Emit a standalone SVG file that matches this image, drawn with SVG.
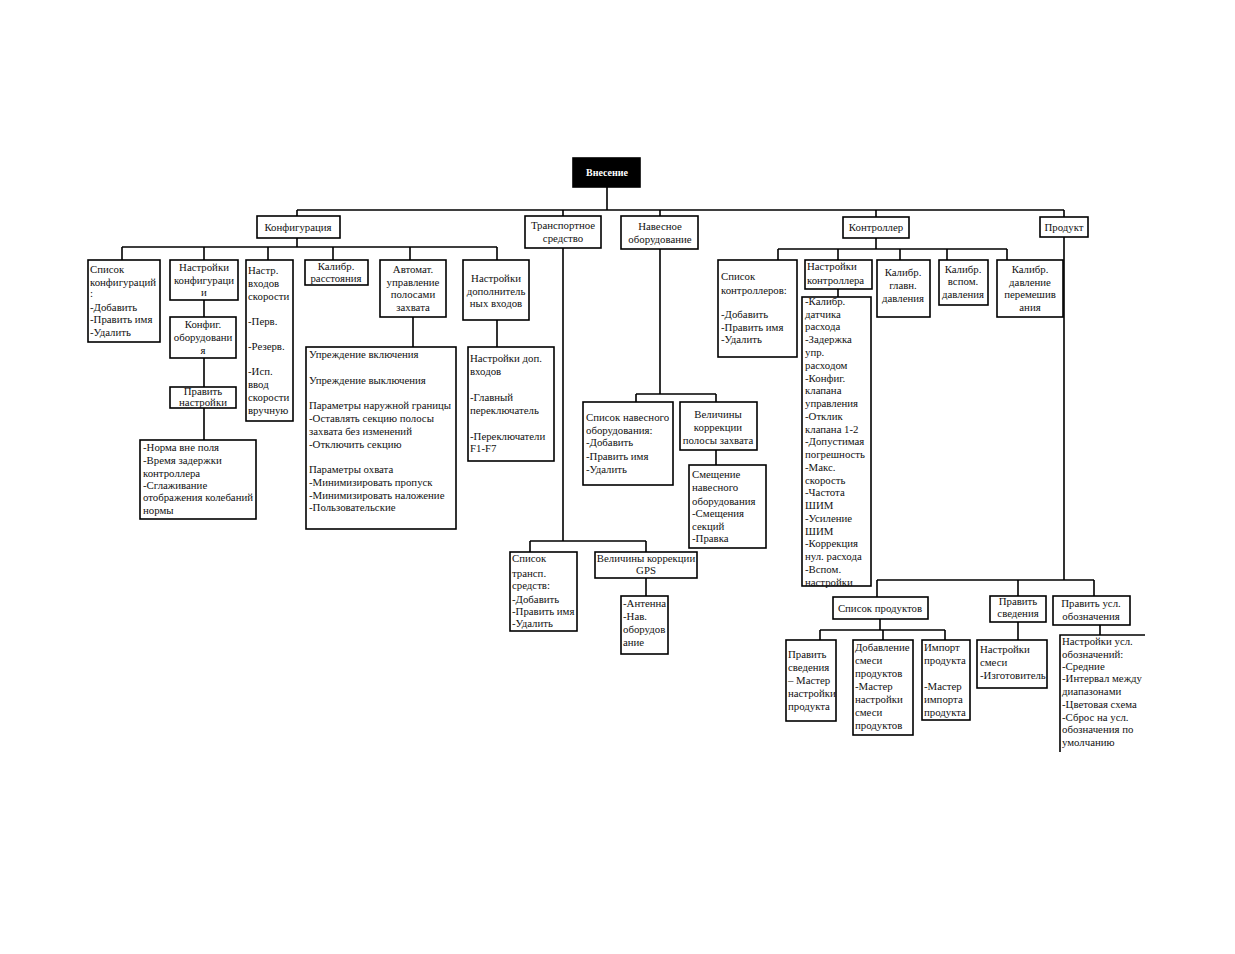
<svg xmlns="http://www.w3.org/2000/svg" width="1235" height="954" viewBox="0 0 1235 954">
<style>
.b{fill:#fff;stroke:#000;stroke-width:1.6}
.ln{fill:none;stroke:#000;stroke-width:1.6}
text{font-family:"Liberation Serif","Times New Roman",serif;font-size:10.8px;fill:#111}
.c{text-anchor:middle}
.w{fill:#fff;font-weight:bold;font-size:10px}
</style>
<rect width="1235" height="954" fill="#fff"/>
<g id="connectors">
<path class="ln" d="M607,187V210M297,210H1064M297,210V216M563,210V216M660,210V216M876,210V217M1064,210V217"/>
<path class="ln" d="M297,238V247M122,247H497M122,247V260M204,247V260M268,247V260M333,247V260M410,247V260M497,247V260"/>
<path class="ln" d="M204,300V317M204,358V387M204,408V440M413,317V347M497,320V347"/>
<path class="ln" d="M563,248V541M530,541H646M530,541V552M646,541V552M646,578V596"/>
<path class="ln" d="M660,249V394M636,394H716M636,394V402M716,394V402M716,450V465"/>
<path class="ln" d="M876,238V249M778,249H1007M778,249V260M838,249V260M900,249V260M947,249V260M1007,249V260M838,289V297"/>
<path class="ln" d="M1064,237V580M877,580H1094M877,580V597M1018,580V596M1094,580V596"/>
<path class="ln" d="M880,619V630M820,630H945M820,630V640M883,630V640M945,630V640M1018,622V640M1100,625V635"/>
</g>
<g id="root"><rect x="573" y="158" width="67" height="29" fill="#000" stroke="#000" stroke-width="1.6"/><text class="c w" x="607" y="176">Внесение</text></g>
<g id="n-config"><rect class="b" x="257" y="216" width="83" height="22"/><text class="c" x="298" y="231">Конфигурация</text></g>
<g id="n-transport"><rect class="b" x="525" y="216" width="76" height="32"/><text class="c" x="563" y="229">Транспортное</text><text class="c" x="563" y="242">средство</text></g>
<g id="n-implement"><rect class="b" x="621" y="216" width="77" height="33"/><text class="c" x="660" y="230">Навесное</text><text class="c" x="660" y="243">оборудование</text></g>
<g id="n-controller"><rect class="b" x="843" y="217" width="66" height="21"/><text class="c" x="876" y="231">Контроллер</text></g>
<g id="n-product"><rect class="b" x="1040" y="217" width="48" height="20"/><text class="c" x="1064" y="231">Продукт</text></g>

<g id="n-cfg-list"><rect class="b" x="88" y="260" width="72" height="82"/><text x="90" y="273">Список</text><text x="90" y="286">конфигураций</text><text x="90" y="297">:</text><text x="90" y="311">-Добавить</text><text x="90" y="323">-Править имя</text><text x="90" y="336">-Удалить</text></g>
<g id="n-cfg-settings"><rect class="b" x="170" y="260" width="68" height="40"/><text class="c" x="204" y="271">Настройки</text><text class="c" x="204" y="284">конфигураци</text><text class="c" x="204" y="296">и</text></g>
<g id="n-cfg-equip"><rect class="b" x="170" y="317" width="66" height="41"/><text class="c" x="203" y="328">Конфиг.</text><text class="c" x="203" y="341">оборудовани</text><text class="c" x="203" y="354">я</text></g>
<g id="n-cfg-edit"><rect class="b" x="170" y="387" width="66" height="21"/><text class="c" x="203" y="395">Править</text><text class="c" x="203" y="406">настройки</text></g>
<g id="n-cfg-norm"><rect class="b" x="140" y="440" width="116" height="79"/><text x="143" y="451">-Норма вне поля</text><text x="143" y="464">-Время задержки</text><text x="143" y="477">контроллера</text><text x="143" y="489">-Сглаживание</text><text x="143" y="501">отображения колебаний</text><text x="143" y="514">нормы</text></g>
<g id="n-speed"><rect class="b" x="246" y="260" width="47" height="161"/><text x="248" y="274">Настр.</text><text x="248" y="287">входов</text><text x="248" y="300">скорости</text><text x="248" y="325">-Перв.</text><text x="248" y="350">-Резерв.</text><text x="248" y="375">-Исп.</text><text x="248" y="388">ввод</text><text x="248" y="401">скорости</text><text x="248" y="414">вручную</text></g>
<g id="n-dist"><rect class="b" x="305" y="260" width="63" height="25"/><text class="c" x="336" y="270">Калибр.</text><text class="c" x="336" y="282">расстояния</text></g>
<g id="n-auto"><rect class="b" x="380" y="260" width="66" height="57"/><text class="c" x="413" y="273">Автомат.</text><text class="c" x="413" y="286">управление</text><text class="c" x="413" y="298">полосами</text><text class="c" x="413" y="311">захвата</text></g>
<g id="n-auto-detail"><rect class="b" x="306" y="347" width="150" height="182"/><text x="309" y="358">Упреждение включения</text><text x="309" y="384">Упреждение выключения</text><text x="309" y="409">Параметры наружной границы</text><text x="309" y="422">-Оставлять секцию полосы</text><text x="309" y="435">захвата без изменений</text><text x="309" y="448">-Отключить секцию</text><text x="309" y="473">Параметры охвата</text><text x="309" y="486">-Минимизировать пропуск</text><text x="309" y="499">-Минимизировать наложение</text><text x="309" y="511">-Пользовательские</text></g>
<g id="n-aux"><rect class="b" x="463" y="260" width="66" height="60"/><text class="c" x="496" y="282">Настройки</text><text class="c" x="496" y="295">дополнитель</text><text class="c" x="496" y="307">ных входов</text></g>
<g id="n-aux-detail"><rect class="b" x="468" y="347" width="86" height="114"/><text x="470" y="362">Настройки  доп.</text><text x="470" y="375">входов</text><text x="470" y="401">-Главный</text><text x="470" y="414">переключатель</text><text x="470" y="440">-Переключатели</text><text x="470" y="452">F1-F7</text></g>

<g id="n-veh-list"><rect class="b" x="510" y="552" width="67" height="79"/><text x="512" y="562">Список</text><text x="512" y="577">трансп.</text><text x="512" y="589">средств:</text><text x="512" y="603">-Добавить</text><text x="512" y="615">-Править имя</text><text x="512" y="627">-Удалить</text></g>
<g id="n-gps"><rect class="b" x="595" y="552" width="102" height="26"/><text class="c" x="646" y="562">Величины коррекции</text><text class="c" x="646" y="574">GPS</text></g>
<g id="n-gps-detail"><rect class="b" x="621" y="596" width="47" height="58"/><text x="623" y="607">-Антенна</text><text x="623" y="620">-Нав.</text><text x="623" y="633">оборудов</text><text x="623" y="646">ание</text></g>

<g id="n-imp-list"><rect class="b" x="583" y="402" width="90" height="83"/><text x="586" y="421">Список навесного</text><text x="586" y="434">оборудования:</text><text x="586" y="446">-Добавить</text><text x="586" y="460">-Править имя</text><text x="586" y="473">-Удалить</text></g>
<g id="n-imp-corr"><rect class="b" x="680" y="402" width="77" height="48"/><text class="c" x="718" y="418">Величины</text><text class="c" x="718" y="431">коррекции</text><text class="c" x="718" y="444">полосы захвата</text></g>
<g id="n-imp-offset"><rect class="b" x="689" y="465" width="77" height="83"/><text x="692" y="478">Смещение</text><text x="692" y="491">навесного</text><text x="692" y="505">оборудования</text><text x="692" y="517">-Смещения</text><text x="692" y="530">секций</text><text x="692" y="542">-Правка</text></g>

<g id="n-ctl-list"><rect class="b" x="718" y="260" width="79" height="97"/><text x="721" y="280">Список</text><text x="721" y="294">контроллеров:</text><text x="721" y="318">-Добавить</text><text x="721" y="331">-Править имя</text><text x="721" y="343">-Удалить</text></g>
<g id="n-ctl-settings"><rect class="b" x="805" y="260" width="67" height="29"/><text x="807" y="270">Настройки</text><text x="807" y="284">контроллера</text></g>
<g id="n-ctl-detail"><rect class="b" x="802" y="297" width="69" height="289"/>
<text x="805" y="305">-Калибр.</text><text x="805" y="318">датчика</text><text x="805" y="330">расхода</text><text x="805" y="343">-Задержка</text><text x="805" y="356">упр.</text><text x="805" y="369">расходом</text><text x="805" y="382">-Конфиг.</text><text x="805" y="394">клапана</text><text x="805" y="407">управления</text><text x="805" y="420">-Отклик</text><text x="805" y="433">клапана 1-2</text><text x="805" y="445">-Допустимая</text><text x="805" y="458">погрешность</text><text x="805" y="471">-Макс.</text><text x="805" y="484">скорость</text><text x="805" y="496">-Частота</text><text x="805" y="509">ШИМ</text><text x="805" y="522">-Усиление</text><text x="805" y="535">ШИМ</text><text x="805" y="547">-Коррекция</text><text x="805" y="560">нул. расхода</text><text x="805" y="573">-Вспом.</text><text x="805" y="586">настройки</text></g>
<g id="n-main-press"><rect class="b" x="877" y="260" width="53" height="57"/><text class="c" x="903" y="276">Калибр.</text><text class="c" x="903" y="289">главн.</text><text class="c" x="903" y="302">давления</text></g>
<g id="n-aux-press"><rect class="b" x="939" y="260" width="49" height="45"/><text class="c" x="963" y="273">Калибр.</text><text class="c" x="963" y="285">вспом.</text><text class="c" x="963" y="298">давления</text></g>
<g id="n-mix-press"><rect class="b" x="997" y="260" width="66" height="57"/><text class="c" x="1030" y="273">Калибр.</text><text class="c" x="1030" y="286">давление</text><text class="c" x="1030" y="298">перемешив</text><text class="c" x="1030" y="311">ания</text></g>

<g id="n-prod-list"><rect class="b" x="833" y="597" width="95" height="22"/><text class="c" x="880" y="612">Список продуктов</text></g>
<g id="n-prod-edit"><rect class="b" x="990" y="596" width="56" height="26"/><text class="c" x="1018" y="605">Править</text><text class="c" x="1018" y="617">сведения</text></g>
<g id="n-prod-legend"><rect class="b" x="1053" y="596" width="77" height="29"/><text class="c" x="1091" y="607">Править усл.</text><text class="c" x="1091" y="620">обозначения</text></g>
<g id="n-prod-wizard"><rect class="b" x="786" y="640" width="50" height="81"/><text x="788" y="658">Править</text><text x="788" y="671">сведения</text><text x="788" y="684">– Мастер</text><text x="788" y="697">настройки</text><text x="788" y="710">продукта</text></g>
<g id="n-prod-mix"><rect class="b" x="853" y="640" width="60" height="95"/><text x="855" y="651">Добавление</text><text x="855" y="664">смеси</text><text x="855" y="677">продуктов</text><text x="855" y="690">-Мастер</text><text x="855" y="703">настройки</text><text x="855" y="716">смеси</text><text x="855" y="729">продуктов</text></g>
<g id="n-prod-import"><rect class="b" x="922" y="640" width="48" height="80"/><text x="924" y="651">Импорт</text><text x="924" y="664">продукта</text><text x="924" y="690">-Мастер</text><text x="924" y="703">импорта</text><text x="924" y="716">продукта</text></g>
<g id="n-prod-mixset"><rect class="b" x="977" y="640" width="70" height="48"/><text x="980" y="653">Настройки</text><text x="980" y="666">смеси</text><text x="980" y="679">-Изготовитель</text></g>
<g id="n-prod-legendset"><path class="ln" d="M1145,635H1060V752"/><text x="1062" y="645">Настройки усл.</text><text x="1062" y="658">обозначений:</text><text x="1062" y="670">-Средние</text><text x="1062" y="682">-Интервал между</text><text x="1062" y="695">диапазонами</text><text x="1062" y="708">-Цветовая схема</text><text x="1062" y="721">-Сброс на усл.</text><text x="1062" y="733">обозначения по</text><text x="1062" y="746">умолчанию</text></g>
</svg>
